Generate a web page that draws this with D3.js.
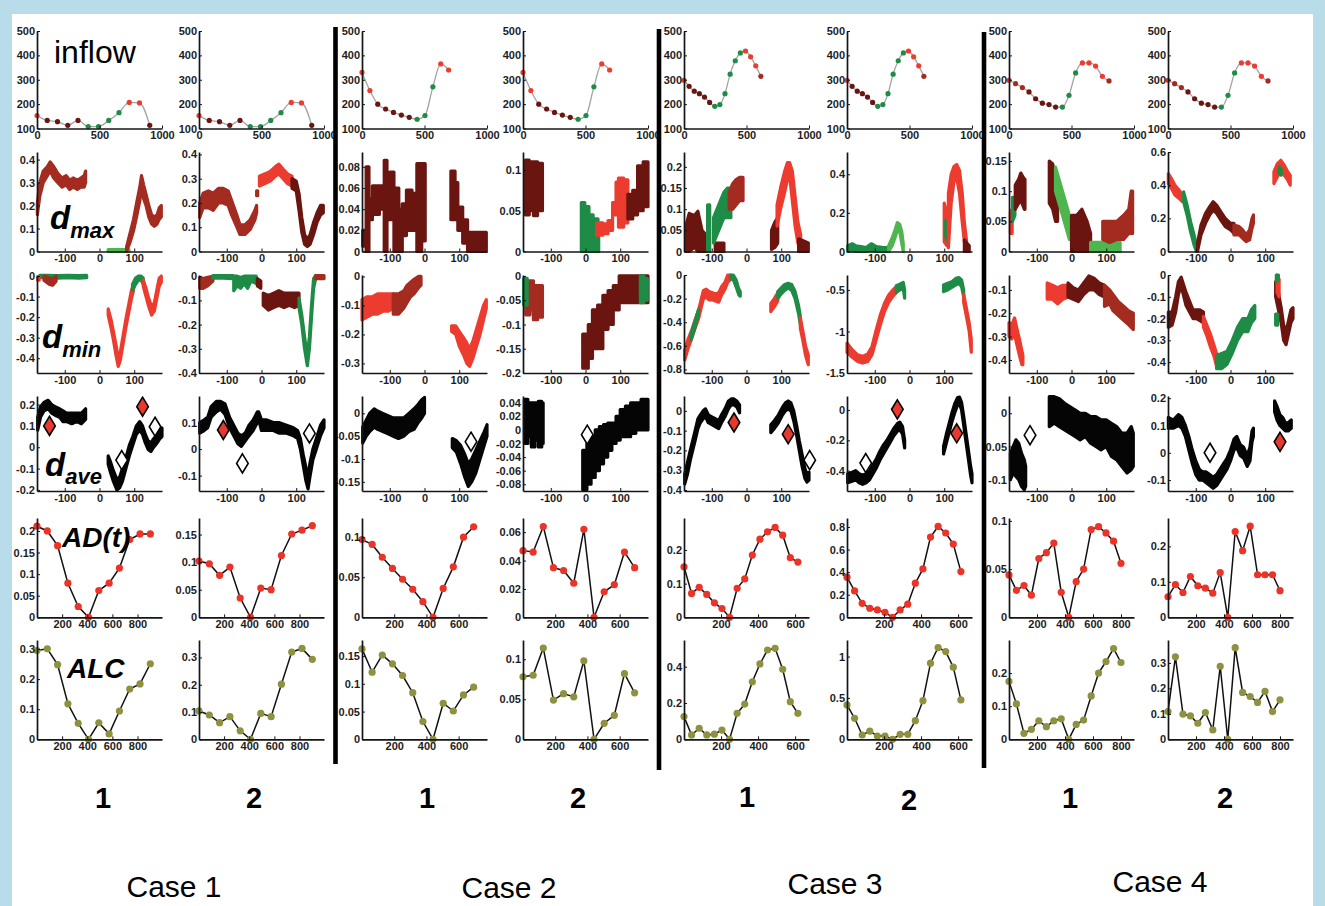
<!DOCTYPE html>
<html>
<head>
<meta charset="utf-8">
<script src="https://cdn.jsdelivr.net/npm/d3@7"></script>
<style>
  body { margin: 0; background: #b9dcea; }
  svg { display: block; }
</style>
</head>
<body>
<svg id="fig" width="1325" height="906"></svg>
<script>
// ---- inflow (row 1), one set per case, both columns of a case share it
const inflowT1 = [0, 82, 164, 246, 328, 410, 492, 574, 656, 738, 820, 902];
const inflowV1 = [153, 133, 128, 113, 133, 108, 108, 133, 165, 207, 205, 113];
const inflowC1 = ["rd", "dk", "dk", "dk", "dk", "gn", "gn", "gn", "gn", "rd", "rd", "dk"];
const inflowT2 = [0, 63, 126, 189, 252, 315, 378, 441, 504, 567, 630, 693];
const inflowV2 = [330, 256, 200, 180, 166, 155, 146, 138, 153, 271, 365, 340];
const inflowC2 = ["rd", "rd", "dk", "dk", "dk", "dk", "dk", "gn", "gn", "gn", "rd", "rd"];
const inflowT3 = [0, 41, 82, 123, 164, 205, 246, 287, 328, 369, 410, 451, 492, 533, 574, 615];
const inflowV3 = [298, 273, 253, 243, 229, 207, 191, 198, 243, 323, 378, 410, 418, 394, 357, 314];
const inflowC3 = ["rd", "dk", "dk", "dk", "dk", "dk", "gn", "gn", "gn", "gn", "gn", "gn", "rd", "rd", "rd", "md"];
const inflowT4 = [0, 53, 107, 160, 213, 267, 320, 373, 427, 480, 533, 587, 640, 693, 747, 800];
const inflowV4 = [298, 284, 268, 250, 222, 204, 198, 188, 188, 236, 328, 369, 369, 356, 314, 295];
const inflowC4 = ["rd", "md", "md", "dk", "dk", "dk", "dk", "dk", "gn", "gn", "gn", "rd", "rd", "rd", "rd", "md"];
const inflowTicksX = [0, 500, 1000];
const inflowTicksY = [100, 200, 300, 400, 500];

// ---- AD(t) and ALC (rows 5, 6), one per column
const adV = [
  [0.211, 0.200, 0.166, 0.079, 0.025, 0, 0.062, 0.079, 0.114, 0.180, 0.193, 0.193],
  [0.102, 0.097, 0.076, 0.091, 0.035, 0, 0.053, 0.050, 0.112, 0.151, 0.158, 0.166],
  [0.097, 0.091, 0.075, 0.061, 0.0475, 0.035, 0.0195, 0, 0.036, 0.063, 0.100, 0.113],
  [0.047, 0.046, 0.064, 0.035, 0.033, 0.024, 0.062, 0, 0.018, 0.023, 0.046, 0.035],
  [0.150, 0.071, 0.089, 0.068, 0.043, 0.026, 0, 0.086, 0.114, 0.185, 0.232, 0.254, 0.267, 0.244, 0.177, 0.164],
  [0.356, 0.234, 0.124, 0.080, 0.065, 0.044, 0, 0.065, 0.116, 0.302, 0.429, 0.711, 0.805, 0.747, 0.649, 0.405],
  [0.044, 0.028, 0.033, 0.023, 0.061, 0.067, 0.077, 0.026, 0, 0.037, 0.050, 0.091, 0.094, 0.0875, 0.079, 0.056],
  [0.058, 0.092, 0.070, 0.115, 0.089, 0.082, 0.068, 0.126, 0, 0.242, 0.188, 0.257, 0.120, 0.120, 0.120, 0.075]
];
const adTicksY = [
  [0, 0.05, 0.1, 0.15, 0.2], [0, 0.05, 0.1, 0.15], [0, 0.05, 0.1], [0, 0.02, 0.04, 0.06],
  [0, 0.1, 0.2], [0, 0.2, 0.4, 0.6, 0.8], [0, 0.05, 0.1], [0, 0.1, 0.2]
];
const adTop = [0.23, 0.18, 0.124, 0.07, 0.295, 0.88, 0.103, 0.28];

const alcV = [
  [0.295, 0.301, 0.248, 0.118, 0.053, 0, 0.055, 0.018, 0.094, 0.167, 0.184, 0.251],
  [0.104, 0.089, 0.061, 0.083, 0.031, 0, 0.095, 0.083, 0.202, 0.32, 0.333, 0.293],
  [0.163, 0.121, 0.152, 0.136, 0.115, 0.084, 0.032, 0, 0.065, 0.051, 0.08, 0.094],
  [0.078, 0.080, 0.114, 0.049, 0.057, 0.053, 0.098, 0, 0.02, 0.03, 0.082, 0.058],
  [0.125, 0.024, 0.061, 0.024, 0.028, 0.051, 0, 0.143, 0.194, 0.317, 0.415, 0.492, 0.501, 0.386, 0.207, 0.143],
  [0.415, 0.254, 0.052, 0.1, 0.04, 0.04, 0, 0.06, 0.06, 0.225, 0.467, 0.92, 1.109, 1.06, 0.872, 0.476],
  [0.175, 0.107, 0.018, 0.03, 0.056, 0.038, 0.056, 0.062, 0, 0.045, 0.058, 0.131, 0.2, 0.235, 0.274, 0.232],
  [0.109, 0.324, 0.099, 0.092, 0.063, 0.105, 0.037, 0.287, 0, 0.36, 0.184, 0.168, 0.145, 0.188, 0.109, 0.155]
];
const alcTicksY = [
  [0, 0.1, 0.2, 0.3], [0, 0.1, 0.2, 0.3], [0, 0.05, 0.1, 0.15], [0, 0.05, 0.1],
  [0, 0.2, 0.4], [0, 0.5, 1], [0, 0.1, 0.2], [0, 0.1, 0.2, 0.3]
];
const alcTop = [0.33, 0.364, 0.179, 0.124, 0.547, 1.2, 0.3, 0.39];
const caseTimeMax = [995, 776, 675, 893];
const caseTicksX = [[200, 400, 600, 800], [200, 400, 600], [200, 400, 600], [200, 400, 600, 800]];

// ---- d_max / d_min / d_ave clouds: segments of [angle, low, high]
const angleTicks = [-100, 0, 100];

const dmax11 = [
  ["md", [[-179, 0.16, 0.21], [-172, 0.24, 0.3], [-162, 0.3, 0.35], [-150, 0.33, 0.37], [-142, 0.35, 0.39], [-132, 0.32, 0.37], [-120, 0.3, 0.34], [-108, 0.28, 0.32], [-96, 0.29, 0.33], [-86, 0.27, 0.31], [-76, 0.28, 0.32], [-64, 0.27, 0.31], [-54, 0.28, 0.32], [-44, 0.28, 0.33], [-40, 0.3, 0.35]]],
  ["lg", [[25, 0, 0.008], [85, 0, 0.008]]],
  ["md", [[78, 0, 0.02], [88, 0.04, 0.08], [98, 0.09, 0.14], [108, 0.16, 0.22], [116, 0.22, 0.28], [121, 0.28, 0.33], [127, 0.23, 0.29], [134, 0.2, 0.25], [142, 0.15, 0.2], [150, 0.12, 0.16], [158, 0.11, 0.15], [166, 0.12, 0.16], [172, 0.14, 0.19], [178, 0.15, 0.2]]]
];
const dmax12 = [
  ["md", [[-178, 0.14, 0.2], [-168, 0.18, 0.24], [-153, 0.18, 0.25], [-139, 0.17, 0.24], [-124, 0.2, 0.26], [-110, 0.2, 0.26], [-96, 0.19, 0.25], [-86, 0.15, 0.21], [-71, 0.1, 0.15], [-62, 0.07, 0.11], [-48, 0.07, 0.11], [-33, 0.09, 0.13], [-19, 0.13, 0.17], [-14, 0.16, 0.19]]],
  ["md", [[-14, 0.23, 0.25], [-11, 0.23, 0.25]]],
  ["rd", [[-6, 0.27, 0.31], [10, 0.28, 0.32], [25, 0.29, 0.33], [40, 0.31, 0.35], [50, 0.32, 0.36], [62, 0.3, 0.34], [75, 0.28, 0.32], [88, 0.27, 0.31]]],
  ["dk", [[88, 0.26, 0.3], [100, 0.25, 0.29], [108, 0.17, 0.24], [116, 0.08, 0.14], [124, 0.03, 0.07], [132, 0.02, 0.05], [140, 0.03, 0.07], [150, 0.07, 0.12], [160, 0.12, 0.16], [170, 0.15, 0.19], [178, 0.16, 0.19]]]
];
const dmax21 = [
  ["dk", [[-178, 0.005, 0.02], [-168, 0, 0.08], [-160, 0.03, 0.05], [-150, 0.035, 0.062], [-130, 0.04, 0.062], [-116, 0, 0.086], [-108, 0.03, 0.06], [-100, 0.03, 0.075], [-88, 0, 0.06], [-74, 0, 0.04], [-64, 0.015, 0.045], [-52, 0.02, 0.058], [-36, 0.02, 0.055], [-22, 0, 0.083], [-8, 0.01, 0.083], [2, 0.01, 0.083]]],
  ["dk", [[76, 0.03, 0.076], [88, 0.03, 0.065], [96, 0.02, 0.042], [110, 0.008, 0.03], [124, 0, 0.018], [178, 0, 0.018]]]
];
const dmax22 = [
  ["dk", [[-173, 0.045, 0.112], [-162, 0.05, 0.11], [-150, 0.044, 0.11], [-138, 0.05, 0.108], [-124, 0.05, 0.108]]],
  ["gn", [[-12, 0, 0.06], [-2, 0, 0.055], [10, 0, 0.045], [22, 0, 0.04], [36, 0, 0.03], [38, 0, 0.03]]],
  ["rd", [[32, 0.02, 0.035], [50, 0.022, 0.034], [65, 0.026, 0.038], [78, 0.045, 0.06], [88, 0.07, 0.085], [95, 0.03, 0.09], [110, 0.035, 0.088], [122, 0.04, 0.085]]],
  ["dk", [[122, 0.04, 0.07], [136, 0.045, 0.075], [150, 0.05, 0.105], [166, 0.055, 0.11], [180, 0.055, 0.11]]]
];
const dmax31 = [
  ["dk", [[-175, 0, 0.06], [-165, 0, 0.09], [-150, 0.01, 0.085], [-140, 0, 0.095], [-128, 0, 0.05], [-118, 0, 0.04], [-110, 0, 0.04]]],
  ["gn", [[-112, 0, 0.11], [-106, 0, 0.11]]],
  ["dk", [[-90, 0, 0.02], [-65, 0, 0.02]]],
  ["gn", [[-95, 0.02, 0.08], [-85, 0.04, 0.1], [-75, 0.06, 0.12], [-65, 0.08, 0.14], [-55, 0.08, 0.15], [-45, 0.08, 0.15]]],
  ["md", [[-50, 0.1, 0.14], [-40, 0.1, 0.16], [-30, 0.11, 0.17], [-20, 0.12, 0.175], [-10, 0.12, 0.175]]],
  ["dk", [[72, 0.005, 0.05], [82, 0.01, 0.07], [90, 0.02, 0.08]]],
  ["rd", [[88, 0.06, 0.11], [98, 0.1, 0.15], [110, 0.14, 0.19], [118, 0.17, 0.21], [124, 0.18, 0.21], [132, 0.12, 0.19], [140, 0.06, 0.13], [148, 0.02, 0.07], [156, 0, 0.04]]],
  ["dk", [[150, 0, 0.03], [178, 0, 0.02]]]
];
const dmax32 = [
  ["gn", [[-178, 0, 0.03], [-165, 0.005, 0.04], [-155, 0, 0.03], [-140, 0, 0.025], [-125, 0, 0.02], [-110, 0.005, 0.04], [-95, 0, 0.025], [-75, 0, 0.02], [-60, 0, 0.02]]],
  ["lg", [[-60, 0, 0.03], [-50, 0.03, 0.07], [-42, 0.07, 0.11], [-35, 0.11, 0.15], [-28, 0.1, 0.14], [-22, 0.04, 0.1], [-18, 0, 0.04]]],
  ["rd", [[100, 0.05, 0.25], [108, 0.03, 0.2]]],
  ["gn", [[104, 0.08, 0.16], [110, 0.05, 0.12]]],
  ["rd", [[112, 0.02, 0.3], [120, 0.25, 0.4], [128, 0.36, 0.44], [136, 0.38, 0.45], [144, 0.3, 0.42], [152, 0.15, 0.3], [158, 0.05, 0.15], [164, 0, 0.06]]],
  ["dk", [[158, 0, 0.06], [172, 0, 0.03]]]
];
const dmax41 = [
  ["rd", [[-176, 0.03, 0.065], [-171, 0.03, 0.07]]],
  ["gn", [[-170, 0.05, 0.09], [-163, 0.06, 0.09]]],
  ["dk", [[-162, 0.07, 0.11], [-152, 0.08, 0.12], [-146, 0.085, 0.13], [-136, 0.07, 0.12], [-134, 0.07, 0.12]]],
  ["dk", [[-64, 0.08, 0.15], [-54, 0.07, 0.145], [-46, 0.05, 0.12], [-40, 0.05, 0.1]]],
  ["lg", [[-46, 0.1, 0.14], [-36, 0.08, 0.12], [-26, 0.06, 0.1], [-16, 0.04, 0.08], [-6, 0.02, 0.06], [2, 0.02, 0.04]]],
  ["dk", [[0, 0, 0.06], [15, 0, 0.06], [30, 0, 0.07], [45, 0, 0.05], [55, 0, 0.03]]],
  ["lg", [[55, 0, 0.015], [140, 0, 0.015]]],
  ["md", [[90, 0.02, 0.05], [110, 0.015, 0.05], [130, 0.02, 0.05], [150, 0.02, 0.06], [165, 0.03, 0.07], [172, 0.03, 0.1], [176, 0.03, 0.1]]]
];
const dmax42 = [
  ["rd", [[-179, 0.41, 0.47], [-170, 0.38, 0.44], [-160, 0.34, 0.4], [-148, 0.32, 0.37], [-138, 0.3, 0.34]]],
  ["gn", [[-135, 0.3, 0.36], [-125, 0.22, 0.28], [-115, 0.12, 0.18], [-105, 0.04, 0.1], [-98, 0, 0.04]]],
  ["dk", [[-95, 0, 0.05], [-85, 0.1, 0.16], [-72, 0.17, 0.23], [-60, 0.22, 0.27], [-50, 0.25, 0.3], [-40, 0.23, 0.28], [-28, 0.19, 0.24], [-15, 0.15, 0.2], [0, 0.13, 0.17], [10, 0.11, 0.17]]],
  ["md", [[10, 0.1, 0.16], [25, 0.1, 0.15], [35, 0.08, 0.13], [45, 0.06, 0.1], [55, 0.07, 0.13], [62, 0.14, 0.2], [66, 0.17, 0.22]]],
  ["rd", [[125, 0.41, 0.48], [135, 0.45, 0.53], [145, 0.48, 0.55], [155, 0.46, 0.52], [165, 0.43, 0.48], [172, 0.4, 0.46]]],
  ["gn", [[140, 0.47, 0.51], [146, 0.46, 0.5]]]
];
const dmaxTop = [0.433, 0.41, 0.094, 0.122, 0.235, 0.515, 0.165, 0.6];
const dmaxTicksY = [
  [0, 0.1, 0.2, 0.3, 0.4], [0, 0.1, 0.2, 0.3, 0.4], [0, 0.02, 0.04, 0.06, 0.08], [0, 0.05, 0.1],
  [0, 0.05, 0.1, 0.15, 0.2], [0, 0.2, 0.4], [0, 0.05, 0.1, 0.15], [0, 0.2, 0.4, 0.6]
];

const dmin11 = [
  ["gn", [[-172, -0.008, 0.003], [-150, -0.008, 0.003], [-120, -0.01, 0.002], [-90, -0.008, 0.003], [-60, -0.01, 0.002], [-37, -0.008, 0.003]]],
  ["md", [[-160, -0.02, 0], [-145, -0.04, -0.01], [-135, -0.045, -0.015], [-125, -0.025, 0]]],
  ["rd", [[-178, -0.02, -0.005], [-174, -0.02, -0.005]]],
  ["rd", [[25, -0.19, -0.16], [33, -0.25, -0.21], [40, -0.31, -0.27], [48, -0.39, -0.34], [54, -0.44, -0.4], [60, -0.41, -0.37], [68, -0.33, -0.29], [76, -0.25, -0.21], [84, -0.18, -0.14], [92, -0.11, -0.07], [98, -0.07, -0.04]]],
  ["gn", [[95, -0.07, -0.04], [104, -0.04, -0.01], [112, -0.02, 0], [120, -0.02, 0], [126, -0.04, -0.01]]],
  ["rd", [[126, -0.05, -0.02], [134, -0.1, -0.06], [142, -0.15, -0.11], [150, -0.19, -0.15], [158, -0.17, -0.13], [166, -0.1, -0.06], [172, -0.05, -0.01], [178, -0.03, 0]]]
];
const dmin12 = [
  ["md", [[-178, -0.05, -0.005], [-168, -0.05, -0.01], [-155, -0.04, -0.005], [-140, -0.02, 0]]],
  ["gn", [[-140, -0.008, 0.003], [-110, -0.008, 0.003], [-82, -0.01, 0.003]]],
  ["gn", [[-80, -0.06, 0], [-70, -0.04, 0], [-60, -0.05, -0.005], [-50, -0.03, 0], [-40, -0.05, 0], [-30, -0.02, 0], [-15, -0.03, 0]]],
  ["dk", [[-12, -0.04, -0.01], [-2, -0.05, -0.02]]],
  ["dk", [[5, -0.12, -0.07], [20, -0.14, -0.08], [35, -0.13, -0.07], [50, -0.12, -0.06], [65, -0.13, -0.07], [80, -0.12, -0.07], [95, -0.13, -0.07], [108, -0.12, -0.07]]],
  ["gn", [[108, -0.13, -0.09], [116, -0.2, -0.16], [124, -0.3, -0.25], [132, -0.37, -0.33], [138, -0.3, -0.25], [144, -0.17, -0.12], [150, -0.05, -0.01], [156, -0.01, 0.003]]],
  ["md", [[156, -0.01, 0.003], [180, -0.01, 0.003]]]
];
const dmin21 = [
  ["rd", [[-180, -0.15, -0.08], [-165, -0.14, -0.07], [-150, -0.13, -0.07], [-135, -0.13, -0.06], [-120, -0.12, -0.06], [-105, -0.12, -0.06], [-90, -0.11, -0.06]]],
  ["md", [[-90, -0.13, -0.06], [-75, -0.13, -0.06], [-60, -0.11, -0.05], [-50, -0.09, -0.03], [-40, -0.07, -0.02], [-30, -0.06, -0.01], [-18, -0.04, 0], [-10, -0.03, 0]]],
  ["rd", [[78, -0.19, -0.17], [90, -0.2, -0.17], [100, -0.24, -0.19], [112, -0.27, -0.21], [122, -0.3, -0.23], [130, -0.31, -0.25], [140, -0.28, -0.22], [150, -0.24, -0.18], [160, -0.2, -0.14], [170, -0.15, -0.1], [178, -0.11, -0.08]]]
];
const dmin22 = [
  ["md", [[-172, -0.08, -0.01], [-160, -0.07, -0.01], [-150, -0.09, -0.02], [-138, -0.085, -0.02], [-124, -0.085, -0.02]]],
  ["gn", [[-178, -0.06, -0.005], [-168, -0.06, -0.005]]],
  ["dk", [[-8, -0.19, -0.12], [8, -0.17, -0.1], [20, -0.15, -0.07], [35, -0.15, -0.06], [50, -0.11, -0.04], [65, -0.1, -0.03], [80, -0.07, -0.02], [97, -0.055, 0], [120, -0.055, 0], [145, -0.055, 0], [180, -0.055, 0]]],
  ["gn", [[158, -0.055, 0], [168, -0.05, -0.005], [178, -0.05, -0.005]]]
];
const dmin31 = [
  ["rd", [[-178, -0.72, -0.64], [-168, -0.62, -0.54], [-158, -0.54, -0.47], [-148, -0.45, -0.38], [-138, -0.37, -0.3], [-130, -0.27, -0.2], [-124, -0.2, -0.13], [-116, -0.19, -0.12], [-108, -0.21, -0.14], [-98, -0.21, -0.15], [-90, -0.22, -0.16], [-80, -0.23, -0.15], [-72, -0.17, -0.1], [-62, -0.12, -0.06], [-54, -0.06, 0], [-46, -0.04, 0]]],
  ["gn", [[-160, -0.55, -0.5], [-148, -0.44, -0.39], [-138, -0.33, -0.29]]],
  ["gn", [[-46, -0.03, 0], [-38, -0.04, 0], [-30, -0.1, -0.04], [-22, -0.17, -0.12], [-18, -0.18, -0.14]]],
  ["rd", [[70, -0.31, -0.24], [80, -0.27, -0.2], [90, -0.22, -0.15]]],
  ["gn", [[90, -0.2, -0.14], [100, -0.16, -0.11], [110, -0.13, -0.08], [120, -0.11, -0.07], [130, -0.13, -0.08], [140, -0.2, -0.14], [150, -0.33, -0.26], [155, -0.42, -0.35]]],
  ["rd", [[155, -0.45, -0.36], [162, -0.55, -0.47], [170, -0.68, -0.6], [178, -0.76, -0.68]]]
];
const dmin32 = [
  ["rd", [[-180, -1.25, -1.14], [-165, -1.31, -1.22], [-150, -1.36, -1.28], [-135, -1.38, -1.3], [-120, -1.36, -1.27], [-108, -1.28, -1.18], [-96, -1.1, -0.98], [-84, -0.92, -0.8], [-72, -0.76, -0.66], [-60, -0.65, -0.56], [-48, -0.58, -0.5], [-38, -0.53, -0.46]]],
  ["gn", [[-38, -0.53, -0.45], [-28, -0.5, -0.43], [-18, -0.48, -0.41], [-14, -0.6, -0.5]]],
  ["gn", [[98, -0.52, -0.44], [110, -0.5, -0.42], [122, -0.47, -0.4], [134, -0.44, -0.36], [142, -0.42, -0.35], [150, -0.46, -0.38], [156, -0.58, -0.5]]],
  ["rd", [[156, -0.65, -0.55], [164, -0.82, -0.72], [172, -1.0, -0.9], [178, -1.25, -1.1]]]
];
const dmin41 = [
  ["rd", [[-180, -0.3, -0.24], [-172, -0.31, -0.25], [-164, -0.29, -0.22], [-158, -0.33, -0.26], [-150, -0.38, -0.31], [-143, -0.42, -0.36], [-140, -0.42, -0.38]]],
  ["rd", [[-70, -0.14, -0.07], [-55, -0.14, -0.08], [-40, -0.16, -0.09], [-25, -0.14, -0.08], [-10, -0.13, -0.08]]],
  ["dk", [[-10, -0.13, -0.07], [5, -0.14, -0.09], [20, -0.15, -0.1], [35, -0.12, -0.07], [50, -0.1, -0.04], [65, -0.1, -0.05], [80, -0.12, -0.07], [95, -0.13, -0.08]]],
  ["md", [[95, -0.17, -0.08], [110, -0.16, -0.1], [120, -0.19, -0.12], [135, -0.21, -0.15], [150, -0.23, -0.17], [165, -0.25, -0.19], [178, -0.27, -0.2]]]
];
const dmin42 = [
  ["dk", [[-179, -0.24, -0.17], [-168, -0.23, -0.17], [-158, -0.17, -0.1], [-150, -0.09, -0.03], [-142, -0.05, -0.01], [-136, -0.09, -0.04], [-128, -0.14, -0.08], [-118, -0.17, -0.12], [-108, -0.2, -0.16], [-98, -0.2, -0.16], [-88, -0.21, -0.16], [-78, -0.22, -0.17]]],
  ["rd", [[-78, -0.24, -0.19], [-68, -0.28, -0.23], [-58, -0.33, -0.27], [-48, -0.37, -0.32], [-40, -0.42, -0.36], [-32, -0.42, -0.37]]],
  ["gn", [[-40, -0.43, -0.37], [-25, -0.43, -0.36], [-10, -0.41, -0.35], [5, -0.36, -0.3], [20, -0.3, -0.24], [35, -0.26, -0.2], [50, -0.26, -0.2], [60, -0.22, -0.16], [70, -0.2, -0.14]]],
  ["dk", [[130, -0.1, -0.03], [138, -0.16, -0.08], [146, -0.22, -0.15], [153, -0.3, -0.23], [160, -0.32, -0.26], [167, -0.27, -0.21], [174, -0.22, -0.16], [180, -0.2, -0.15]]],
  ["rd", [[134, -0.08, 0], [140, -0.1, -0.02]]],
  ["gn", [[132, -0.03, 0], [138, -0.02, 0]]],
  ["gn", [[130, -0.23, -0.18], [136, -0.23, -0.18]]]
];
const dminBounds = [[-0.472, 0.005], [-0.4, 0.005], [-0.333, 0.005], [-0.2, 0.002], [-0.83, 0], [-1.5, -0.32], [-0.456, -0.036], [-0.45, 0]];
const dminTicksY = [
  [-0.4, -0.3, -0.2, -0.1, 0], [-0.4, -0.3, -0.2, -0.1, 0], [-0.3, -0.2, -0.1, 0], [-0.2, -0.15, -0.1, -0.05, 0],
  [-0.8, -0.6, -0.4, -0.2, 0], [-1.5, -1, -0.5], [-0.4, -0.3, -0.2, -0.1], [-0.4, -0.3, -0.2, -0.1, 0]
];

const dave11 = [
  [[-178, 0.08, 0.14], [-170, 0.14, 0.19], [-160, 0.17, 0.21], [-148, 0.18, 0.22], [-138, 0.16, 0.2], [-128, 0.15, 0.19], [-115, 0.14, 0.18], [-105, 0.12, 0.17], [-95, 0.12, 0.16], [-80, 0.11, 0.16], [-65, 0.12, 0.16], [-52, 0.11, 0.16], [-40, 0.13, 0.18]],
  [[25, -0.08, -0.04], [32, -0.12, -0.07], [40, -0.16, -0.11], [50, -0.2, -0.15], [58, -0.19, -0.14], [66, -0.16, -0.1], [76, -0.1, -0.05], [86, -0.04, 0.01], [96, 0.01, 0.05], [106, 0.06, 0.1], [116, 0.08, 0.12], [124, 0.06, 0.1], [132, 0.02, 0.06], [140, -0.01, 0.03], [148, -0.02, 0.02], [156, 0, 0.04], [166, 0.02, 0.06], [174, 0.04, 0.08], [180, 0.05, 0.09]]
];
const dave12 = [
  [[-178, 0.06, 0.1], [-165, 0.07, 0.11], [-155, 0.08, 0.12], [-145, 0.12, 0.16], [-130, 0.14, 0.18], [-118, 0.15, 0.18], [-105, 0.13, 0.17], [-92, 0.08, 0.12], [-80, 0.05, 0.09], [-68, 0.02, 0.06], [-58, 0.01, 0.05], [-47, 0.03, 0.06], [-36, 0.05, 0.09], [-24, 0.07, 0.11], [-12, 0.1, 0.14], [-8, 0.11, 0.14], [0, 0.07, 0.11], [15, 0.07, 0.11], [34, 0.07, 0.1], [50, 0.06, 0.1], [72, 0.06, 0.09], [92, 0.05, 0.08], [104, 0.04, 0.07], [112, 0, 0.04], [120, -0.06, -0.02], [128, -0.12, -0.07], [134, -0.15, -0.1], [140, -0.1, -0.05], [148, -0.04, 0], [158, 0, 0.04], [170, 0.05, 0.09], [180, 0.08, 0.11]]
];
const dave21 = [
  [[-178, -0.065, -0.03], [-168, -0.05, -0.015], [-158, -0.04, 0], [-145, -0.03, 0.01], [-135, -0.035, 0.005], [-120, -0.04, 0], [-105, -0.045, -0.005], [-90, -0.05, -0.01], [-75, -0.055, -0.01], [-60, -0.05, -0.01], [-45, -0.04, 0], [-30, -0.035, 0.01], [-18, -0.02, 0.02], [-8, -0.01, 0.03], [0, 0, 0.035]],
  [[80, -0.075, -0.055], [92, -0.085, -0.06], [104, -0.11, -0.07], [116, -0.14, -0.09], [126, -0.16, -0.11], [136, -0.15, -0.1], [148, -0.13, -0.08], [160, -0.1, -0.06], [172, -0.07, -0.04], [180, -0.05, -0.025]]
];
const dave22 = [
  [[-176, -0.02, 0.045], [-166, -0.01, 0.04], [-156, -0.025, 0.04], [-146, -0.015, 0.04], [-136, -0.025, 0.042], [-126, -0.02, 0.04], [-122, -0.02, 0.04]],
  [[-8, -0.088, -0.03], [4, -0.08, -0.02], [16, -0.07, -0.01], [28, -0.06, 0], [40, -0.05, 0.005], [52, -0.04, 0.008], [64, -0.03, 0.01], [76, -0.02, 0.01], [88, -0.015, 0.02], [100, -0.01, 0.03], [115, -0.01, 0.035], [130, -0.005, 0.04], [145, 0, 0.04], [160, 0, 0.045], [180, 0, 0.045]]
];
const dave31 = [
  [[-178, -0.37, -0.32], [-170, -0.32, -0.26], [-162, -0.25, -0.2], [-155, -0.2, -0.15], [-148, -0.15, -0.1], [-140, -0.09, -0.04], [-133, -0.06, -0.02], [-125, -0.04, 0], [-118, -0.03, 0.01], [-110, -0.06, -0.02], [-100, -0.07, -0.03], [-90, -0.08, -0.04], [-80, -0.09, -0.05], [-72, -0.06, -0.02], [-62, -0.03, 0.01], [-52, 0.01, 0.05], [-44, 0.03, 0.06], [-36, 0.03, 0.06], [-28, 0.02, 0.05], [-20, -0.01, 0.03]],
  [[70, -0.11, -0.07], [80, -0.09, -0.05], [92, -0.06, -0.02], [104, -0.02, 0.02], [112, 0, 0.04], [120, 0.01, 0.05], [128, 0, 0.04], [136, -0.05, 0], [144, -0.12, -0.07], [152, -0.2, -0.15], [160, -0.28, -0.22], [168, -0.34, -0.29], [174, -0.36, -0.32], [180, -0.35, -0.31]]
];
const dave32 = [
  [[-178, -0.48, -0.42], [-165, -0.47, -0.41], [-155, -0.46, -0.4], [-145, -0.48, -0.42], [-135, -0.49, -0.43], [-125, -0.48, -0.42], [-115, -0.46, -0.4], [-105, -0.42, -0.36], [-95, -0.38, -0.32], [-85, -0.33, -0.27], [-75, -0.29, -0.23], [-65, -0.25, -0.2], [-55, -0.21, -0.16], [-45, -0.17, -0.12], [-35, -0.14, -0.09], [-28, -0.13, -0.08], [-20, -0.16, -0.11], [-14, -0.25, -0.2]],
  [[98, -0.29, -0.24], [106, -0.22, -0.16], [114, -0.15, -0.09], [122, -0.08, -0.02], [130, -0.02, 0.04], [138, 0.03, 0.08], [144, 0.04, 0.085], [150, 0, 0.05], [156, -0.1, -0.04], [162, -0.2, -0.14], [170, -0.33, -0.27], [176, -0.43, -0.37], [180, -0.48, -0.42]]
];
const dave41 = [
  [[-176, -0.1, -0.06], [-168, -0.09, -0.05], [-160, -0.095, -0.04], [-152, -0.1, -0.045], [-144, -0.11, -0.06], [-136, -0.115, -0.07], [-132, -0.11, -0.08]],
  [[-64, -0.02, 0.025], [-50, -0.015, 0.025], [-35, -0.02, 0.022], [-20, -0.025, 0.015], [-5, -0.03, 0.01], [10, -0.035, 0.005], [25, -0.04, 0], [40, -0.035, 0], [55, -0.045, -0.005], [70, -0.05, -0.005], [85, -0.055, -0.01], [100, -0.05, -0.01], [115, -0.065, -0.015], [130, -0.07, -0.02], [145, -0.08, -0.03], [160, -0.09, -0.03], [172, -0.085, -0.02], [178, -0.08, -0.03]]
];
const dave42 = [
  [[-179, 0.09, 0.13], [-165, 0.09, 0.12], [-150, 0.1, 0.14], [-140, 0.09, 0.13], [-130, 0.06, 0.1], [-120, 0.01, 0.06], [-110, -0.04, 0.01], [-100, -0.08, -0.03], [-90, -0.1, -0.06], [-80, -0.1, -0.07], [-70, -0.11, -0.07], [-60, -0.12, -0.08], [-50, -0.13, -0.09], [-40, -0.12, -0.08], [-30, -0.1, -0.06], [-20, -0.08, -0.04], [-10, -0.06, -0.02], [0, -0.03, 0.01], [10, 0.01, 0.05], [18, 0.02, 0.06], [28, -0.01, 0.03], [38, -0.02, 0.02], [48, -0.05, -0.01], [56, -0.03, 0.02], [62, 0.04, 0.08], [66, 0.06, 0.09]],
  [[127, 0.15, 0.19], [134, 0.12, 0.17], [142, 0.1, 0.14], [150, 0.09, 0.13], [158, 0.08, 0.11], [166, 0.08, 0.11], [175, 0.09, 0.12]]
];
const daveBounds = [[-0.205, 0.24], [-0.158, 0.2], [-0.17, 0.038], [-0.09, 0.05], [-0.405, 0.075], [-0.534, 0.092], [-0.117, 0.026], [-0.14, 0.208]];
const daveTicksY = [
  [-0.2, -0.1, 0, 0.1, 0.2], [-0.1, 0, 0.1], [-0.15, -0.1, -0.05, 0], [-0.08, -0.06, -0.04, -0.02, 0, 0.02, 0.04],
  [-0.4, -0.3, -0.2, -0.1, 0], [-0.4, -0.2, 0], [-0.1, -0.05, 0], [-0.1, 0, 0.1, 0.2]
];
// diamond markers on d_ave: [angle, value, filled red?]
const daveMarks = [
  [[-144, 0.1, "r"], [124, 0.19, "r"], [64, -0.06, "w"], [160, 0.096, "w"]],
  [[-110, 0.072, "r"], [-55, -0.054, "w"], [138, 0.059, "w"]],
  [[134, -0.062, "w"]],
  [[5, -0.007, "w"]],
  [[-36, -0.059, "r"], [120, -0.118, "r"], [182, -0.249, "w"]],
  [[-126, -0.35, "w"], [-35, 0.004, "r"], [136, -0.154, "r"]],
  [[-119.5, -0.033, "w"]],
  [[-59, 0, "w"], [142.6, 0.04, "r"]]
];

const caseLabels = ["Case 1", "Case 2", "Case 3", "Case 4"];
const colLabels = ["1", "2", "1", "2", "1", "2", "1", "2"];

// ---------------------------------------------------------------
const svg = d3.select("#fig");
const pal = { dk: "#6b1511", md: "#a42b20", rd: "#ec3b2f", gn: "#1e8c46", lg: "#4fb54e" };
const font = "'Liberation Sans', Arial, sans-serif";

const colLeft = [37, 199, 362, 523, 684, 847, 1009, 1168];
const colW = 125;
const rowTop = [31, 152, 275, 396, 518, 640];
const rowBot = [128.5, 251.5, 373, 491, 617.3, 739.3];

svg.append("rect").attr("width", 1325).attr("height", 906).attr("fill", "#b9dcea");
svg.append("rect").attr("x", 12).attr("y", 14).attr("width", 1301).attr("height", 900).attr("fill", "#fff");

const layer = svg.append("g");
const axisLayer = svg.append("g");

function panel(col, row, xDom, yDom, xTicks, yTicks) {
  const x = d3.scaleLinear().domain(xDom).range([colLeft[col], colLeft[col] + colW]);
  const y = d3.scaleLinear().domain(yDom).range([rowBot[row], rowTop[row]]);
  const g = axisLayer.append("g");
  g.append("g")
    .attr("transform", "translate(0," + rowBot[row] + ")")
    .call(d3.axisBottom(x).tickValues(xTicks).tickFormat((d) => String(d)).tickSizeInner(-3).tickSizeOuter(0).tickPadding(3));
  g.append("g")
    .attr("transform", "translate(" + colLeft[col] + ",0)")
    .call(d3.axisLeft(y).tickValues(yTicks).tickFormat((d) => String(d)).tickSizeInner(-3).tickSizeOuter(0).tickPadding(2));
  g.selectAll("path.domain").attr("stroke", "#151515").attr("stroke-width", 1.7);
  g.selectAll(".tick line").attr("stroke", "#151515").attr("stroke-width", 1);
  g.selectAll("text").attr("font-family", font).attr("font-size", 11).attr("font-weight", "bold").attr("fill", "#1d1d1d");
  return { x, y };
}

// row 1: inflow
const inflowT = [inflowT1, inflowT2, inflowT3, inflowT4];
const inflowV = [inflowV1, inflowV2, inflowV3, inflowV4];
const inflowC = [inflowC1, inflowC2, inflowC3, inflowC4];
for (let col = 0; col < 8; col++) {
  const k = Math.floor(col / 2);
  const { x, y } = panel(col, 0, [0, 1000], [100, 500], inflowTicksX, inflowTicksY);
  const pts = inflowT[k].map((t, i) => [t, inflowV[k][i], inflowC[k][i]]);
  layer.append("path").datum(pts)
    .attr("d", d3.line().x((d) => x(d[0])).y((d) => y(d[1])).curve(d3.curveMonotoneX))
    .attr("fill", "none").attr("stroke", "#a3a3a3").attr("stroke-width", 1.3);
  layer.selectAll(null).data(pts).join("circle")
    .attr("cx", (d) => x(d[0])).attr("cy", (d) => y(d[1])).attr("r", 2.6)
    .attr("fill", (d) => pal[d[2]]);
}

// rows 2-4: clouds drawn as filled bands
const stepPanels = new Set(["dmax2", "dmax3", "dmin3", "dave3"]);
function cloud(name, col, row, yDom, yTicks, segs, black) {
  const { x, y } = panel(col, row, [-180, 180], yDom, angleTicks, yTicks);
  const area = d3.area().x((d) => x(d[0])).y0((d) => y(d[1])).y1((d) => y(d[2]))
    .curve(stepPanels.has(name + col) ? d3.curveStepAfter : d3.curveLinear);
  segs.forEach((s) => {
    const color = black ? "#050505" : pal[s[0]];
    const pts = black ? s : s[1];
    layer.append("path").datum(pts).attr("d", area)
      .attr("fill", color).attr("stroke", color).attr("stroke-width", 3.2).attr("stroke-linejoin", "round");
  });
  return { x, y };
}

const dmaxAll = [dmax11, dmax12, dmax21, dmax22, dmax31, dmax32, dmax41, dmax42];
const dminAll = [dmin11, dmin12, dmin21, dmin22, dmin31, dmin32, dmin41, dmin42];
const daveAll = [dave11, dave12, dave21, dave22, dave31, dave32, dave41, dave42];
for (let col = 0; col < 8; col++) {
  cloud("dmax", col, 1, [0, dmaxTop[col]], dmaxTicksY[col], dmaxAll[col], false);
  cloud("dmin", col, 2, dminBounds[col], dminTicksY[col], dminAll[col], false);
  const { x, y } = cloud("dave", col, 3, daveBounds[col], daveTicksY[col], daveAll[col], true);
  layer.selectAll(null).data(daveMarks[col]).join("path")
    .attr("d", "M0,-9.5L5.8,0L0,9.5L-5.8,0Z")
    .attr("transform", (d) => "translate(" + x(d[0]) + "," + y(d[1]) + ")")
    .attr("fill", (d) => (d[2] === "r" ? "#e8392f" : "#fff"))
    .attr("stroke", "#000").attr("stroke-width", 1.6);
}

// rows 5-6: AD(t) and ALC
function series(col, row, values, top, yTicks, dotColor) {
  const k = Math.floor(col / 2);
  const { x, y } = panel(col, row, [0, caseTimeMax[k]], [0, top], caseTicksX[k], yTicks);
  const pts = inflowT[k].map((t, i) => [t, values[i]]);
  layer.append("path").datum(pts)
    .attr("d", d3.line().x((d) => x(d[0])).y((d) => y(d[1])))
    .attr("fill", "none").attr("stroke", "#111").attr("stroke-width", 1.5);
  layer.selectAll(null).data(pts).join("circle")
    .attr("cx", (d) => x(d[0])).attr("cy", (d) => y(d[1])).attr("r", 3.6)
    .attr("fill", dotColor);
}
for (let col = 0; col < 8; col++) {
  series(col, 4, adV[col], adTop[col], adTicksY[col], "#ec3328");
  series(col, 5, alcV[col], alcTop[col], alcTicksY[col], "#8e9140");
}

// case separators
const sepX = [335.5, 659, 984];
const sepY = [[27, 764], [29, 770], [32, 768]];
sepX.forEach((sx, i) => {
  svg.append("rect").attr("x", sx - 2.3).attr("y", sepY[i][0]).attr("width", 4.6)
    .attr("height", sepY[i][1] - sepY[i][0]).attr("fill", "#000");
});

// row names
const txt = svg.append("g").attr("font-family", font).attr("fill", "#000");
txt.append("text").attr("x", 54).attr("y", 63).attr("font-size", 32).text("inflow");
function sub(xp, yp, main, s, dy) {
  const t = txt.append("text").attr("x", xp).attr("y", yp)
    .attr("font-weight", "bold").attr("font-style", "italic");
  t.append("tspan").attr("font-size", 33).text(main);
  t.append("tspan").attr("font-size", 22).attr("dy", dy).text(s);
}
sub(50, 229, "d", "max", 9);
sub(42, 348, "d", "min", 9);
sub(45, 476, "d", "ave", 8);
txt.append("text").attr("x", 62).attr("y", 547).attr("font-size", 28)
  .attr("font-weight", "bold").attr("font-style", "italic").text("AD(t)");
txt.append("text").attr("x", 67).attr("y", 678).attr("font-size", 28)
  .attr("font-weight", "bold").attr("font-style", "italic").text("ALC");

// column and case labels
const colLabelX = [103, 254, 427, 578, 747, 909, 1070, 1225];
const colLabelY = [808, 808, 808, 808, 807, 810, 808, 808];
colLabels.forEach((s, i) => {
  txt.append("text").attr("x", colLabelX[i]).attr("y", colLabelY[i]).attr("text-anchor", "middle")
    .attr("font-size", 29).attr("font-weight", "bold").text(s);
});
const caseX = [174, 509, 835, 1160];
const caseY = [897, 898, 894, 892];
caseLabels.forEach((s, i) => {
  txt.append("text").attr("x", caseX[i]).attr("y", caseY[i]).attr("text-anchor", "middle")
    .attr("font-size", 30).text(s);
});
</script>
</body>
</html>
